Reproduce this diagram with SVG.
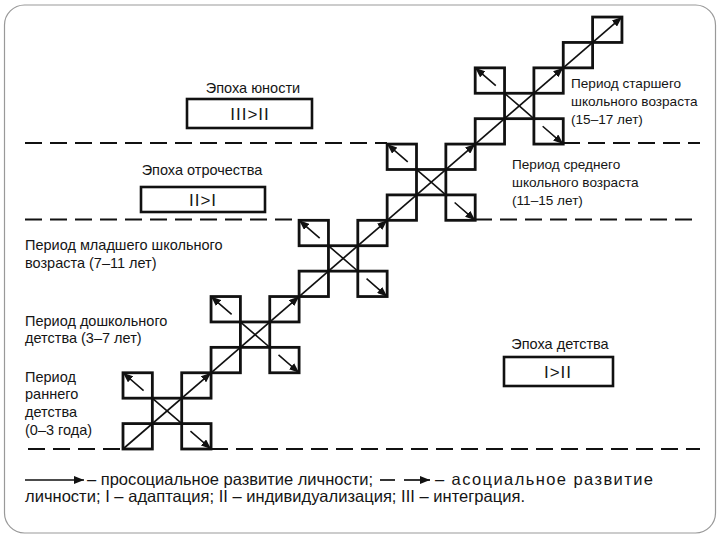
<svg xmlns="http://www.w3.org/2000/svg" xmlns:xlink="http://www.w3.org/1999/xlink" width="720" height="540" viewBox="0 0 720 540">
<style>
text{font-family:"Liberation Sans",Arial,sans-serif;fill:#151515;}
.lbl{font-size:14.5px;}
.rl{font-size:13.6px;}
.leg{font-size:16.5px;}
.code{font-size:17px;letter-spacing:1px;}
.sq{fill:none;stroke:#111;stroke-width:2.8;}
.box{fill:#fff;stroke:#111;stroke-width:2.6;}
.pro{stroke:#111;stroke-width:1.7;fill:none;}
.aso{stroke:#111;stroke-width:1.6;fill:none;stroke-dasharray:20 11 30;}
.sep{stroke:#111;stroke-width:2.2;fill:none;stroke-dasharray:17 8;}
</style>
<defs>
<marker id="ah" viewBox="0 0 10 8" refX="10" refY="4" markerWidth="10" markerHeight="8" markerUnits="userSpaceOnUse" orient="auto"><path d="M0,0 L10,4 L0,8 Z" fill="#111"/></marker>
<g id="stage">
<rect class="sq" x="0" y="-25.41" width="29.35" height="25.41"/>
<rect class="sq" x="58.7" y="-25.41" width="29.35" height="25.41"/>
<rect class="sq" x="29.35" y="-50.82" width="29.35" height="25.41"/>
<rect class="sq" x="0" y="-76.23" width="29.35" height="25.41"/>
<rect class="sq" x="58.7" y="-76.23" width="29.35" height="25.41"/>
<line class="pro" x1="0" y1="0" x2="88.05" y2="-76.23" marker-end="url(#ah)"/>
<line class="aso" x1="44.03" y1="-38.12" x2="0" y2="-76.23" marker-end="url(#ah)"/>
<line class="aso" x1="44.03" y1="-38.12" x2="88.05" y2="0" marker-end="url(#ah)"/>
</g>
</defs>
<rect x="4.5" y="5" width="711" height="528" rx="20" fill="#fff" stroke="#999" stroke-width="1.2"/>
<g id="separators">
<line class="sep" x1="28" y1="449" x2="123" y2="449"/>
<line class="sep" x1="211" y1="449" x2="700" y2="449"/>
<line class="sep" x1="25" y1="219.5" x2="299" y2="219.5"/>
<line class="sep" x1="475" y1="219.5" x2="700" y2="219.5"/>
<line class="sep" x1="25" y1="143" x2="387" y2="143"/>
<line class="sep" x1="563" y1="143" x2="700" y2="143"/>
</g>
<g id="stage-early"><use xlink:href="#stage" href="#stage" transform="translate(123,449)"/></g>
<g id="stage-preschool"><use xlink:href="#stage" href="#stage" transform="translate(211.05,372.77)"/></g>
<g id="stage-junior"><use xlink:href="#stage" href="#stage" transform="translate(299.1,296.54)"/></g>
<g id="stage-middle"><use xlink:href="#stage" href="#stage" transform="translate(387.15,220.31)"/></g>
<g id="stage-senior"><use xlink:href="#stage" href="#stage" transform="translate(475.2,144.08)"/></g>
<g id="continuation">
<rect class="sq" x="563.25" y="42.44" width="29.35" height="25.41"/>
<rect class="sq" x="592.6" y="17.03" width="29.35" height="25.41"/>
</g>
<g id="connectors">
<line class="pro" x1="563.25" y1="67.85" x2="621.95" y2="17.03" marker-end="url(#ah)"/>
</g>
<g id="epoch-youth">
<text class="lbl" x="253" y="93" text-anchor="middle">Эпоха юности</text>
<rect class="box" x="187" y="99" width="125" height="29"/>
<text class="code" x="250" y="120" text-anchor="middle">III&gt;II</text>
</g>
<g id="epoch-adolescence">
<text class="lbl" x="202" y="175" text-anchor="middle">Эпоха отрочества</text>
<rect class="box" x="141" y="187" width="124" height="25"/>
<text class="code" x="203" y="206" text-anchor="middle">II&gt;I</text>
</g>
<g id="epoch-childhood">
<text class="lbl" x="560" y="349" text-anchor="middle">Эпоха детства</text>
<rect class="box" x="504" y="357" width="109" height="29"/>
<text class="code" x="558" y="378" text-anchor="middle">I&gt;II</text>
</g>
<g id="label-junior">
<text class="lbl" x="25" y="250">Период младшего школьного</text>
<text class="lbl" x="25" y="268">возраста (7–11 лет)</text>
</g>
<g id="label-preschool">
<text class="lbl" x="25" y="326">Период дошкольного</text>
<text class="lbl" x="25" y="343">детства (3–7 лет)</text>
</g>
<g id="label-early">
<text class="lbl" x="25" y="382">Период</text>
<text class="lbl" x="25" y="399">раннего</text>
<text class="lbl" x="25" y="417">детства</text>
<text class="lbl" x="25" y="435">(0–3 года)</text>
</g>
<g id="label-senior">
<text class="rl" x="571" y="88">Период старшего</text>
<text class="rl" x="571" y="106">школьного возраста</text>
<text class="rl" x="571" y="124">(15–17 лет)</text>
</g>
<g id="label-middle">
<text class="rl" x="512" y="169">Период среднего</text>
<text class="rl" x="512" y="187">школьного возраста</text>
<text class="rl" x="512" y="205">(11–15 лет)</text>
</g>
<g id="legend">
<line class="pro" x1="25" y1="480" x2="84" y2="480" marker-end="url(#ah)"/>
<text class="leg" x="87" y="485" textLength="286" lengthAdjust="spacing">– просоциальное развитие личности;</text>
<line stroke="#111" stroke-width="1.7" x1="380" y1="480" x2="395" y2="480"/>
<line class="pro" x1="404" y1="480" x2="430" y2="480" marker-end="url(#ah)"/>
<text class="leg" x="435" y="485" textLength="218" lengthAdjust="spacing">– асоциальное развитие</text>
<text class="leg" x="25" y="502" textLength="500" lengthAdjust="spacing">личности; I – адаптация; II – индивидуализация; III – интеграция.</text>
</g>
</svg>
